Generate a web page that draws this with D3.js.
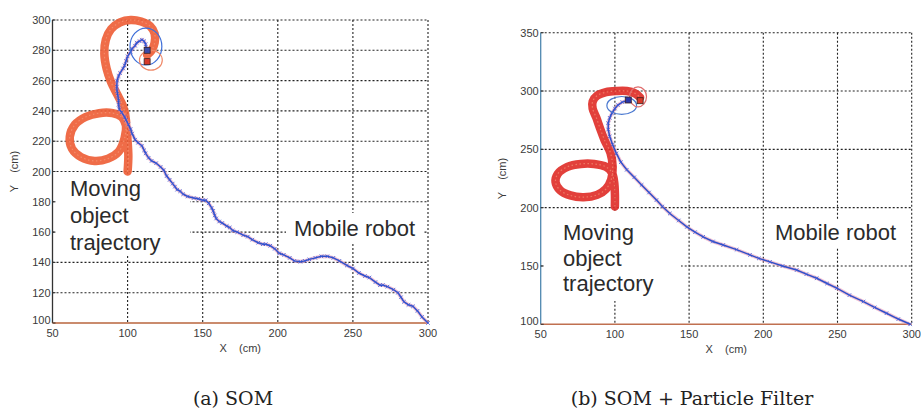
<!DOCTYPE html>
<html lang="en">
<head>
<meta charset="utf-8">
<title>SOM trajectories</title>
<script src="https://d3js.org/d3.v7.min.js"></script>
<style>
  body { margin: 0; background: #fff; }
  text { font-family: "Liberation Sans", Arial, sans-serif; }
  text.caption { font-family: "DejaVu Serif", serif; }
</style>
</head>
<body>
<script>
// ---- data ----
var xTicks = [50, 100, 150, 200, 250, 300];
var yTicksA = [100, 120, 140, 160, 180, 200, 220, 240, 260, 280, 300];
var yTicksB = [100, 150, 200, 250, 300, 350];

// moving object (red) trajectory, (a) SOM
var objA = [[100,200],[100.5,210],[100,220],[99,230],[96,236],[90,238.5],[81,238.5],[72,236],[65,231],[61.5,223],
  [63,215],[69,209.5],[78,207],[87,208.5],[94,213],[98,222],[99,233],[97,243],[93,251],[89,259],[86,268],
  [84.5,278],[85.5,287],[89,294],[95,298.5],[102,300],[109,299],[115,296],[118,291],[118,285],[116,280],[113,277]];

// mobile robot (blue) trajectory, (a) SOM
var robotA = [[300,100],[296,104],[293,108],[290,111],[287,112],[284,114],[282,117],[280,120],[277,122],[273,124],
  [270,125],[268,125],[265,127],[261,130],[258,131],[254,133],[250,136],[246,138],[241,141],[237,143],[233,144],
  [229,144],[225,143],[221,142],[218,141],[215,140.5],[211,141],[208,143],[204,145],[201,146],[198,149],[195,151],
  [192,152],[190,152],[187,153],[183,155],[180,157],[177,158],[173,160],[170,161],[168,163],[166,164],[163,166],
  [161,167],[159,169],[158,171],[157,174],[156,176],[154,179],[152,181],[150,181],[147,182],[144,182.5],[140,183.5],
  [137,185],[135,187],[133,188],[131.5,190],[130,192],[128,194.5],[126,197],[124,201],[122,203],[119,205.5],
  [116,207],[114,209],[112,212],[111,214],[109.5,217],[107,219],[105,221],[103,225],[102,228],[100.5,231],
  [99,234],[98,236],[96,239],[94.5,241],[94,244],[94,247],[93.5,250],[93,253],[92.8,256],[93,260],[94,263],
  [95,265],[97,268],[98,270],[99,273],[100,276],[102,279],[103,281],[105,283],[106,285],[108,286],[109.5,287],
  [111,286],[112,284],[112.5,281]];

// moving object (red) trajectory, (b) SOM + Particle Filter
var objB = [[100,201],[100,212],[99.5,222],[98,230],[94,235],[86,237.5],[77,237.5],[68,235],[61.5,229],[60,222],
  [63,215],[70,210.5],[79,209],[88,211],[94,216],[97.5,224],[98.5,235],[97,247],[93,258],[90,268],[87.5,277],
  [85,285],[85,291],[88,296],[94,299],[101,300],[108,300],[113.5,298],[117,294.5]];

// mobile robot (blue) trajectory, (b) SOM + Particle Filter
var robotB = [[299,100],[291,104.5],[283,109.5],[275,114.5],[267.5,119.5],[258,125],[249.5,131],[243,135],
  [236,139.5],[229,143],[222.5,146.5],[213,150],[204.5,153.5],[197,156.5],[191,159.5],[182,164],[173,168],
  [166,171],[159.5,175],[154,179],[148.5,183.5],[143,189],[137,195],[132,201],[128,206.5],[123,213],[118,219.5],
  [113,226],[108,232.5],[104,239],[101,246.5],[98.5,254],[96.5,261],[95.5,267],[95.5,272.5],[96.5,277],[98,281],
  [100,285],[102,288],[105,290.5],[109,292]];

// estimate markers and circles: [cx, cy, rx, ry] in data units
var circlesA = [{c: "#3f6fd8", e: [112.2, 282.5, 10.6, 12.2]}, {c: "#ef8a6a", e: [115.5, 273.5, 7.6, 6.6]}];
var circlesB = [{c: "#4a78d0", e: [104.6, 287.6, 10, 7.7]}, {c: "#e07070", e: [115.6, 295, 5.7, 8.6]}];
var squaresA = [{c: "#3a4aa8", p: [113, 280]}, {c: "#d83a2a", p: [113, 272.5]}];
var squaresB = [{c: "#2a36a8", p: [109, 292.3]}, {c: "#d83a2a", p: [117, 291.7]}];

var captions = ["(a) SOM", "(b) SOM + Particle Filter"];

// ---- drawing ----
var W = 921, H = 412;
var svg = d3.select("body").append("svg").attr("width", W).attr("height", H);

var panels = [
  { left: 52.5, right: 428, top: 20, bottom: 323, yDom: [100, 300], yTicks: yTicksA,
    obj: objA, robot: robotA, objColor: "#ee6038", circles: circlesA, squares: squaresA,
    yAxisColor: "#333", xAxisColor: "#b8643c", ylabX: 18,
    boxes: [[55, 176, 135, 78], [286, 213, 138, 30]],
    labels: [{x: 70, y: 196, t: "Moving"}, {x: 70, y: 223, t: "object"}, {x: 70, y: 250, t: "trajectory"},
             {x: 294, y: 236, t: "Mobile robot"}],
    caption: captions[0], capX: 233 },
  { left: 540.7, right: 911.7, top: 32.7, bottom: 324.3, yDom: [100, 350], yTicks: yTicksB,
    obj: objB, robot: robotB, objColor: "#e0302a", circles: circlesB, squares: squaresB,
    yAxisColor: "#4f88b0", xAxisColor: "#c07050", ylabX: 506,
    boxes: [[543, 211, 138, 90], [766, 219, 138, 28]],
    labels: [{x: 563, y: 240, t: "Moving"}, {x: 563, y: 266, t: "object"}, {x: 563, y: 291, t: "trajectory"},
             {x: 775, y: 240, t: "Mobile robot"}],
    caption: captions[1], capX: 692 }
];

panels.forEach(function(p) {
  var x = d3.scaleLinear().domain([50, 300]).range([p.left, p.right]);
  var y = d3.scaleLinear().domain(p.yDom).range([p.bottom, p.top]);
  var g = svg.append("g");

  // dotted grid
  g.selectAll(".gx").data(xTicks.slice(1)).enter().append("line")
    .attr("x1", function(d) { return x(d); }).attr("x2", function(d) { return x(d); })
    .attr("y1", p.top).attr("y2", p.bottom)
    .attr("stroke", "#222").attr("stroke-width", 1.1).attr("stroke-dasharray", "2,2");
  g.selectAll(".gy").data(p.yTicks.slice(1)).enter().append("line")
    .attr("x1", p.left).attr("x2", p.right)
    .attr("y1", function(d) { return y(d); }).attr("y2", function(d) { return y(d); })
    .attr("stroke", "#222").attr("stroke-width", 1.1).attr("stroke-dasharray", "2,2");

  // white boxes behind the annotations
  g.selectAll(".box").data(p.boxes).enter().append("rect")
    .attr("x", function(d) { return d[0]; }).attr("y", function(d) { return d[1]; })
    .attr("width", function(d) { return d[2]; }).attr("height", function(d) { return d[3]; })
    .attr("fill", "#fff");

  // axes lines
  g.append("line").attr("x1", p.left).attr("x2", p.left).attr("y1", p.top).attr("y2", p.bottom)
    .attr("stroke", p.yAxisColor).attr("stroke-width", 1.3);
  g.append("line").attr("x1", p.left).attr("x2", p.right).attr("y1", p.bottom).attr("y2", p.bottom)
    .attr("stroke", p.xAxisColor).attr("stroke-width", 1.5);

  // small inward ticks
  g.selectAll(".ty").data(p.yTicks).enter().append("line")
    .attr("x1", p.left).attr("x2", p.left + 3)
    .attr("y1", function(d) { return y(d); }).attr("y2", function(d) { return y(d); })
    .attr("stroke", "#333");

  // tick labels
  g.selectAll(".lx").data(xTicks).enter().append("text")
    .attr("x", function(d) { return x(d); }).attr("y", p.bottom + 14)
    .attr("text-anchor", "middle").attr("font-size", 11).attr("fill", "#3a3a3a")
    .text(function(d) { return d; });
  g.selectAll(".ly").data(p.yTicks).enter().append("text")
    .attr("x", p.left - 2).attr("y", function(d) { return y(d) + 4 - (d === p.yDom[0] ? 3 : 0); })
    .attr("text-anchor", "end").attr("font-size", 11).attr("fill", "#3a3a3a")
    .text(function(d) { return d; });

  // axis titles
  g.append("text").attr("x", (p.left + p.right) / 2).attr("y", p.bottom + 29)
    .attr("text-anchor", "middle").attr("font-size", 11).attr("fill", "#3a3a3a")
    .attr("xml:space", "preserve").text("X    (cm)");
  g.append("text").attr("transform", "translate(" + p.ylabX + "," + ((p.top + p.bottom) / 2) + ") rotate(-90)")
    .attr("text-anchor", "middle").attr("font-size", 11).attr("fill", "#3a3a3a")
    .attr("xml:space", "preserve").text("Y    (cm)");

  // moving object trajectory: thick red stroke
  var smooth = d3.line().x(function(d) { return x(d[0]); }).y(function(d) { return y(d[1]); })
    .curve(d3.curveCatmullRom.alpha(0.5));
  g.append("path").attr("d", smooth(p.obj)).attr("fill", "none")
    .attr("stroke", p.objColor).attr("stroke-width", 8.5).attr("stroke-linecap", "round")
    .attr("stroke-linejoin", "round").attr("opacity", 0.92);
  g.append("path").attr("d", smooth(p.obj)).attr("fill", "none")
    .attr("stroke", "#f6a080").attr("stroke-width", 1.2).attr("stroke-dasharray", "1.5,2.5").attr("opacity", 0.6);

  // mobile robot trajectory
  var lin = d3.line().x(function(d) { return x(d[0]); }).y(function(d) { return y(d[1]); });
  g.append("path").attr("d", lin(p.robot)).attr("fill", "none")
    .attr("stroke", "#e890b0").attr("stroke-width", 3.6).attr("opacity", 0.55);
  g.append("path").attr("d", lin(p.robot)).attr("fill", "none")
    .attr("stroke", "#2f50c8").attr("stroke-width", 1.5);
  g.selectAll(".mk").data(p.robot).enter().append("path")
    .attr("transform", function(d) { return "translate(" + x(d[0]) + "," + y(d[1]) + ")"; })
    .attr("d", d3.symbol().type(d3.symbolX).size(10))
    .attr("stroke", "#3a5ad8").attr("stroke-width", 0.8).attr("fill", "none");

  // estimate circles and squares
  g.selectAll(".ci").data(p.circles).enter().append("ellipse")
    .attr("cx", function(d) { return x(d.e[0]); }).attr("cy", function(d) { return y(d.e[1]); })
    .attr("rx", function(d) { return x(d.e[0] + d.e[2]) - x(d.e[0]); })
    .attr("ry", function(d) { return y(d.e[1]) - y(d.e[1] + d.e[3]); })
    .attr("fill", "none").attr("stroke", function(d) { return d.c; }).attr("stroke-width", 1.2);
  g.selectAll(".sq").data(p.squares).enter().append("rect")
    .attr("x", function(d) { return x(d.p[0]) - 3; }).attr("y", function(d) { return y(d.p[1]) - 3; })
    .attr("width", 6).attr("height", 6)
    .attr("fill", function(d) { return d.c; }).attr("stroke", "#3a2020").attr("stroke-width", 0.8);

  // annotations
  g.selectAll(".an").data(p.labels).enter().append("text")
    .attr("x", function(d) { return d.x; }).attr("y", function(d) { return d.y; })
    .attr("font-size", 22).attr("fill", "#2b2b2b")
    .text(function(d) { return d.t; });

  // caption
  svg.append("text").attr("class", "caption").attr("x", p.capX).attr("y", 405).attr("text-anchor", "middle")
    .attr("font-size", 19).attr("fill", "#222")
    .text(p.caption);
});
</script>
</body>
</html>
